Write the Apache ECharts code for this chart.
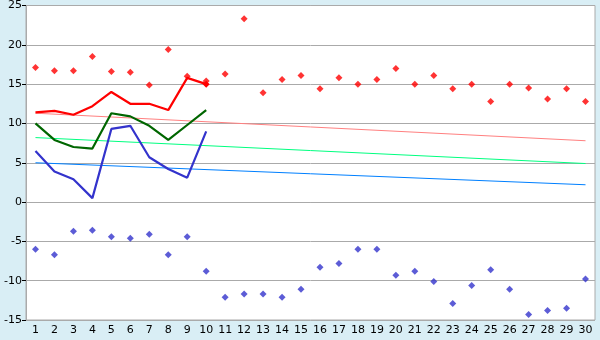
<!DOCTYPE html>
<html><head><meta charset="utf-8">
<script src="https://cdn.jsdelivr.net/npm/echarts@6/dist/echarts.min.js"></script>
<style>html,body{margin:0;padding:0;background:#d9eef5;}#c{width:600px;height:340px;}</style>
</head><body><div id="c"></div>
<script>
var days = ['1','2','3','4','5','6','7','8','9','10','11','12','13','14','15','16','17','18','19','20','21','22','23','24','25','26','27','28','29','30'];
var maxTemps = [17.1,16.7,16.7,18.5,16.6,16.5,14.9,19.4,16.0,15.4,16.3,23.3,13.9,15.6,16.1,14.4,15.8,15.0,15.6,17.0,15.0,16.1,14.4,15.0,12.8,15.0,14.5,13.1,14.4,12.8];
var minTemps = [-6.0,-6.7,-3.7,-3.6,-4.4,-4.6,-4.1,-6.7,-4.4,-8.8,-12.1,-11.7,-11.7,-12.1,-11.1,-8.3,-7.8,-6.0,-6.0,-9.3,-8.8,-10.1,-12.9,-10.6,-8.6,-11.1,-14.3,-13.8,-13.5,-9.8];
var curMax = [11.4,11.6,11.1,12.2,14.0,12.5,12.5,11.7,15.8,15.0];
var curAvg = [10.0,7.9,7.0,6.8,11.3,10.9,9.7,7.9,9.8,11.7];
var curMin = [6.5,3.9,2.9,0.5,9.3,9.7,5.7,4.2,3.1,9.0];
var trendMax = [11.3,7.8];
var trendAvg = [8.2,4.9];
var trendMin = [5.0,2.2];
var yTicks = {min:-15, max:25, interval:5};

function trend(ends){
  var a = days.map(function(){return null;});
  a[0]=ends[0]; a[days.length-1]=ends[1];
  return a;
}
function lineData(arr, mark){
  return arr.map(function(v,i){
    if(mark && i===arr.length-1) return {value:v, symbol:'diamond', symbolSize:7};
    return v;
  });
}
var chart = echarts.init(document.getElementById('c'));
var font = 'DejaVu Sans';
chart.setOption({
  backgroundColor:'#d9eef5',
  animation:false,
  grid:{left:26,right:5,top:5,bottom:20,show:true,backgroundColor:'#ffffff',borderColor:'#aaaaaa',borderWidth:1},
  xAxis:{type:'category',data:days,boundaryGap:true,
    axisLine:{lineStyle:{color:'#aaaaaa'}},
    axisTick:{alignWithLabel:true,length:5,lineStyle:{color:'#000'}},
    axisLabel:{color:'#000',fontFamily:font,fontSize:11,margin:5,interval:0},
    splitLine:{show:false}},
  yAxis:{type:'value',min:yTicks.min,max:yTicks.max,interval:yTicks.interval,
    axisLine:{show:true,lineStyle:{color:'#aaaaaa'}},
    axisTick:{show:true,length:4,lineStyle:{color:'#000'}},
    axisLabel:{color:'#000',fontFamily:font,fontSize:11,margin:4},
    splitLine:{lineStyle:{color:'#aaaaaa'}}},
  series:[
    {type:'line',data:trend(trendMax),connectNulls:true,symbol:'none',lineStyle:{color:'#ff8080',width:1},z:1},
    {type:'line',data:trend(trendAvg),connectNulls:true,symbol:'none',lineStyle:{color:'#00ff80',width:1},z:1},
    {type:'line',data:trend(trendMin),connectNulls:true,symbol:'none',lineStyle:{color:'#0080ff',width:1},z:1},
    {type:'line',data:lineData(curMax,true),symbol:'none',lineStyle:{color:'#ff0000',width:2.2},itemStyle:{color:'#ff0000'},z:3},
    {type:'line',data:lineData(curAvg,false),symbol:'none',lineStyle:{color:'#006600',width:2.2},z:3},
    {type:'line',data:lineData(curMin,false),symbol:'none',lineStyle:{color:'#3333cc',width:2.2},z:3},
    {type:'scatter',data:maxTemps,symbol:'diamond',symbolSize:7,itemStyle:{color:'#ff0000'},z:4},
    {type:'scatter',data:minTemps,symbol:'diamond',symbolSize:7,itemStyle:{color:'#3333cc'},z:4}
  ]
});
</script></body></html>
